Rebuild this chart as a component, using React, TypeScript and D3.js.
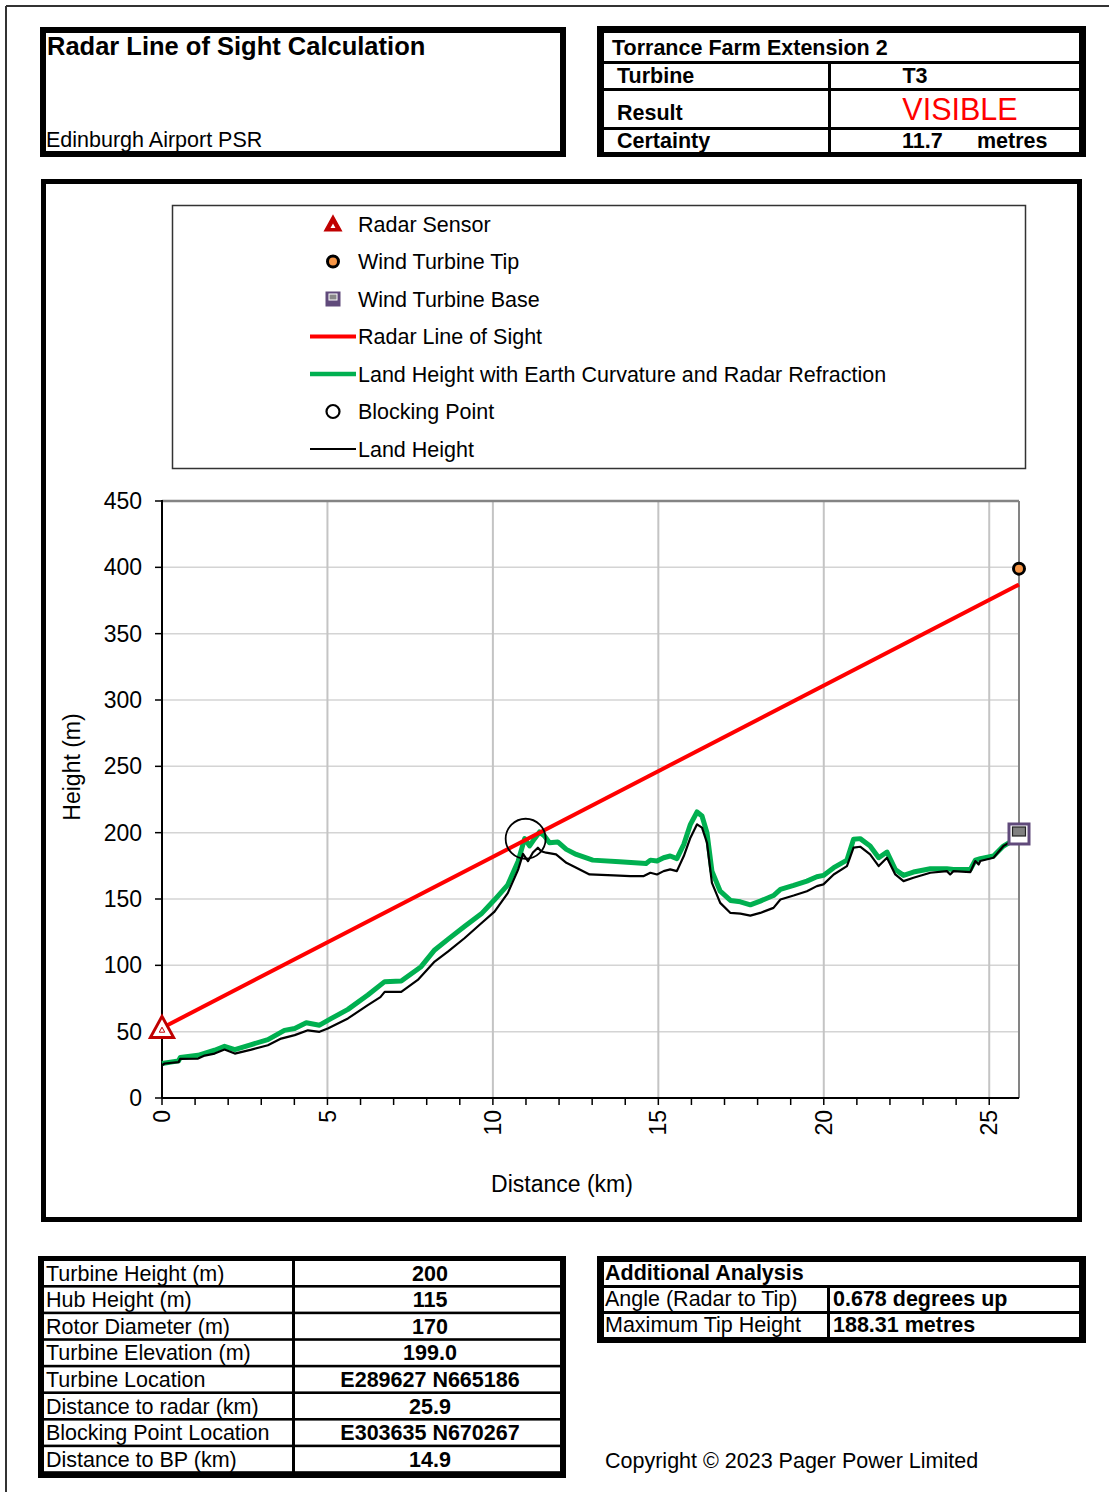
import React from "react";
import * as d3 from "d3";

const FONT = "'Liberation Sans', Arial, Helvetica, sans-serif";

// ---- chart data ----
const landKm = [0, 0.08, 0.5, 0.55, 1.09, 1.29, 1.59, 1.89, 2.2, 2.7, 3.2, 3.6, 4.01, 4.41, 4.76, 5.01, 5.62, 6.22, 6.6, 6.73, 7.23, 7.73, 8.24, 8.64, 9.14, 9.65, 10.05, 10.45, 10.76, 10.91, 11.06, 11.21, 11.36, 11.46, 11.61, 11.91, 12.22, 12.52, 12.92, 13.65, 14.15, 14.56, 14.76, 14.96, 15.16, 15.36, 15.56, 15.77, 15.97, 16.17, 16.32, 16.47, 16.62, 16.87, 17.18, 17.48, 17.78, 18.08, 18.48, 18.69, 19.09, 19.49, 19.79, 19.99, 20.3, 20.7, 20.9, 21.1, 21.4, 21.66, 21.91, 22.16, 22.41, 22.71, 23.22, 23.72, 23.82, 23.92, 24.43, 24.58, 24.68, 24.73, 25.13, 25.43, 25.63, 25.9];
const landM = [24.7, 26, 27, 29.5, 29.7, 32, 33.5, 36.5, 33.5, 36.5, 39.8, 44.8, 47.4, 51, 49.9, 52.4, 60, 70, 76, 80, 80, 89, 102.8, 110.3, 120.4, 131.7, 140.5, 154.4, 172, 184, 178.5, 185, 188.7, 186, 184.9, 183.6, 177.3, 173.6, 168.5, 167.8, 167.3, 167.3, 169.8, 168.5, 171, 172.3, 171, 182.4, 196.2, 206.3, 203.8, 192.4, 162.2, 147.1, 139.5, 139, 137.5, 139.5, 143.3, 149.6, 152.6, 155.9, 159.7, 161, 168.5, 174.8, 188.7, 189.4, 183.6, 174.8, 181.1, 168.5, 163.5, 166, 169.8, 171, 168.5, 171, 170.3, 178.6, 176, 178.6, 181.1, 189.9, 192.9, 199];

const curvKm = [0, 0.5, 0.55, 1.09, 1.59, 1.89, 2.2, 2.7, 3.2, 3.7, 4.01, 4.36, 4.76, 5.12, 5.62, 6.22, 6.73, 7.23, 7.83, 8.24, 8.64, 9.14, 9.65, 10.05, 10.45, 10.76, 10.96, 11.11, 11.26, 11.41, 11.56, 11.71, 11.96, 12.22, 12.52, 13.02, 13.83, 14.63, 14.76, 14.96, 15.16, 15.36, 15.56, 15.77, 15.97, 16.17, 16.32, 16.47, 16.62, 16.87, 17.18, 17.48, 17.78, 18.08, 18.48, 18.69, 19.09, 19.49, 19.79, 19.99, 20.3, 20.7, 20.9, 21.1, 21.4, 21.66, 21.91, 22.16, 22.41, 22.71, 23.22, 23.72, 23.92, 24.43, 24.58, 24.73, 25.13, 25.43, 25.63, 25.9];
const curvM = [26, 28, 30.5, 32.2, 36, 39, 36.5, 40.3, 44, 51, 52.4, 56.7, 54.9, 60, 66.8, 77.6, 87.7, 88.2, 99, 111.6, 119.6, 129.2, 138.8, 149.4, 160.7, 178.3, 195.5, 190, 195.5, 200.5, 197.5, 192.4, 193, 187.4, 183.6, 179.3, 178.1, 176.8, 179.3, 178.6, 181.1, 182.4, 180.4, 191.2, 206.3, 215.6, 212.6, 200, 171, 155.9, 148.9, 147.9, 145.6, 148.4, 152.6, 157.2, 160.2, 163.5, 166.8, 167.8, 173.6, 179.3, 195, 195.5, 190, 181.1, 185.4, 172.3, 167.8, 170.3, 172.8, 172.8, 172.3, 172.3, 179.3, 180.4, 182.4, 189.9, 192.9, 199];

const losKm = [0, 25.9];
const losM = [52.8, 387];

const radarPt = [0, 52.8];
const tipPt = [25.9, 399];
const basePt = [25.9, 199];
const blockPt = [10.99, 195.4];

const yTicks = [0, 50, 100, 150, 200, 250, 300, 350, 400, 450];
const xLabelTicks = [0, 5, 10, 15, 20, 25];
const xMinorTicks = d3.range(0, 26, 1);

const legendLabels = [
  "Radar Sensor",
  "Wind Turbine Tip",
  "Wind Turbine Base",
  "Radar Line of Sight",
  "Land Height with Earth Curvature and Radar Refraction",
  "Blocking Point",
  "Land Height",
];

const specLabels = ["Turbine Height (m)", "Hub Height (m)", "Rotor Diameter (m)", "Turbine Elevation (m)", "Turbine Location", "Distance to radar (km)", "Blocking Point Location", "Distance to BP (km)"];
const specValues = ["200", "115", "170", "199.0", "E289627 N665186", "25.9", "E303635 N670267", "14.9"];

const extraLabels = ["Angle (Radar to Tip)", "Maximum Tip Height"];
const extraValues = ["0.678 degrees up", "188.31 metres"];

const COLORS = {
  red: "#ff0000",
  green: "#00b050",
  radar: "#c00000",
  tipFill: "#f79646",
  basePurple: "#604a7b",
  grid: "#c4c4c4",
};

export default function App() {
  const x = d3.scaleLinear().domain([0, 25.9]).range([162, 1019]);
  const y = d3.scaleLinear().domain([0, 450]).range([1098, 501]);

  const mkPath = (xs: number[], ys: number[]) =>
    d3
      .line<number>()
      .x((i) => x(xs[i]))
      .y((i) => y(ys[i]))(xs.map((_, i) => i)) || "";

  const landPath = mkPath(landKm, landM);
  const curvPath = mkPath(curvKm, curvM);
  const losPath = mkPath(losKm, losM);

  const tri = (cx: number, cy: number, s: number) =>
    `M${cx},${cy - s * 0.55} L${cx + s * 0.55},${cy + s * 0.45} L${cx - s * 0.55},${cy + s * 0.45} Z`;

  const legendY = (i: number) => 224 + i * 37.5;

  const leftRowTop = (i: number) => 1261 + i * 26.6;

  return (
    <svg width={1109} height={1492} style={{ position: "absolute", left: 0, top: 0, background: "#fff" }} fontFamily={FONT}>
      <rect x={0} y={0} width={1109} height={1492} fill="#fff" />
      {/* page border */}
      <line x1={6} y1={6} x2={1109} y2={6} stroke="#333" strokeWidth={2} />
      <line x1={6} y1={6} x2={6} y2={1492} stroke="#333" strokeWidth={2} />

      {/* top-left title box */}
      <rect x={40} y={27} width={526} height={130} fill="#000" />
      <rect x={46} y={33} width={514} height={118} fill="#fff" />
      <text x={47} y={55} fontSize={25.5} fontWeight="bold">Radar Line of Sight Calculation</text>
      <text x={46} y={147} fontSize={21.5}>Edinburgh Airport PSR</text>

      {/* top-right result box */}
      <rect x={597} y={26} width={489} height={131} fill="#000" />
      <rect x={604} y={33} width={475} height={28} fill="#fff" />
      <rect x={604} y={64} width={224} height={24} fill="#fff" />
      <rect x={831} y={64} width={248} height={24} fill="#fff" />
      <rect x={604} y={91} width={224} height={36} fill="#fff" />
      <rect x={831} y={91} width={248} height={36} fill="#fff" />
      <rect x={604} y={130} width={224} height={22} fill="#fff" />
      <rect x={831} y={130} width={248} height={22} fill="#fff" />
      <text x={612} y={55} fontSize={21.5} fontWeight="bold">Torrance Farm Extension 2</text>
      <text x={617} y={83} fontSize={21.5} fontWeight="bold">Turbine</text>
      <text x={915} y={83} fontSize={21.5} fontWeight="bold" textAnchor="middle">T3</text>
      <text x={617} y={120} fontSize={21.5} fontWeight="bold">Result</text>
      <text x={960} y={120} fontSize={30.5} fill="#ff0000" textAnchor="middle">VISIBLE</text>
      <text x={617} y={148} fontSize={21.5} fontWeight="bold">Certainty</text>
      <text x={902} y={148} fontSize={21.5} fontWeight="bold">11.7</text>
      <text x={977} y={148} fontSize={21.5} fontWeight="bold">metres</text>

      {/* chart frame */}
      <rect x={43.5} y={181.5} width={1036} height={1038} fill="#fff" stroke="#000" strokeWidth={5} />

      {/* legend */}
      <rect x={172.5} y={205.5} width={853} height={263} fill="#fff" stroke="#333" strokeWidth={1.5} />
      {legendLabels.map((t, i) => (
        <text key={t} x={358} y={legendY(i)} dy="0.35em" fontSize={21.5}>{t}</text>
      ))}
      <path d={tri(333, legendY(0), 15)} fill={COLORS.radar} stroke={COLORS.radar} strokeWidth={1.5} />
      <path d={tri(333, legendY(0) + 2, 4.5)} fill="#fff" />
      <circle cx={333} cy={legendY(1)} r={5.5} fill={COLORS.tipFill} stroke="#000" strokeWidth={3} />
      <rect x={325.5} y={legendY(2) - 7.5} width={15} height={15} fill={COLORS.basePurple} />
      <rect x={329} y={legendY(2) - 5} width={8} height={6} fill="#888" stroke="#fff" strokeWidth={1} />
      <line x1={310} x2={356} y1={legendY(3)} y2={legendY(3)} stroke={COLORS.red} strokeWidth={4} />
      <line x1={310} x2={356} y1={legendY(4)} y2={legendY(4)} stroke={COLORS.green} strokeWidth={4.5} />
      <circle cx={333} cy={legendY(5)} r={6.5} fill="none" stroke="#000" strokeWidth={2.2} />
      <line x1={310} x2={356} y1={legendY(6)} y2={legendY(6)} stroke="#000" strokeWidth={2} />

      {/* gridlines */}
      {yTicks.filter((t) => t > 0 && t < 450).map((t) => (
        <line key={"gy" + t} x1={x(0)} x2={x(25.9)} y1={y(t)} y2={y(t)} stroke="#d4d4d4" strokeWidth={1.5} />
      ))}
      {xLabelTicks.filter((t) => t > 0).map((t) => (
        <line key={"gx" + t} x1={x(t)} x2={x(t)} y1={y(0)} y2={y(450)} stroke={COLORS.grid} strokeWidth={2} />
      ))}
      <line x1={x(0)} x2={x(25.9)} y1={y(450)} y2={y(450)} stroke="#848484" strokeWidth={2.5} />
      <line x1={x(25.9)} x2={x(25.9)} y1={y(450)} y2={y(0)} stroke="#848484" strokeWidth={2} />

      {/* axes */}
      <line x1={x(0)} x2={x(0)} y1={y(450) - 1} y2={y(0)} stroke="#000" strokeWidth={2} />
      <line x1={x(0)} x2={x(25.9)} y1={y(0)} y2={y(0)} stroke="#000" strokeWidth={2} />
      {yTicks.map((t) => (
        <g key={"yt" + t}>
          <line x1={x(0) - 7} x2={x(0)} y1={y(t)} y2={y(t)} stroke="#000" strokeWidth={1.5} />
          <text x={142} y={y(t)} dy="0.35em" textAnchor="end" fontSize={23}>{t}</text>
        </g>
      ))}
      {xMinorTicks.map((t) => (
        <line key={"xt" + t} x1={x(t)} x2={x(t)} y1={y(0)} y2={y(0) + 7} stroke="#000" strokeWidth={1.5} />
      ))}
      {xLabelTicks.map((t) => (
        <text key={"xl" + t} transform={`translate(${x(t)},1110) rotate(-90)`} dy="0.35em" textAnchor="end" fontSize={23}>{t}</text>
      ))}
      <text transform="translate(72,767) rotate(-90)" dy="0.35em" textAnchor="middle" fontSize={23}>Height (m)</text>
      <text x={562} y={1192} textAnchor="middle" fontSize={23}>Distance (km)</text>

      {/* series */}
      <path d={curvPath} fill="none" stroke={COLORS.green} strokeWidth={5} strokeLinejoin="round" />
      <path d={landPath} fill="none" stroke="#000" strokeWidth={2.2} strokeLinejoin="round" />
      <path d={losPath} fill="none" stroke={COLORS.red} strokeWidth={4} />

      {/* markers */}
      <circle cx={x(blockPt[0])} cy={y(blockPt[1])} r={20} fill="none" stroke="#000" strokeWidth={1.8} />
      <path d={tri(x(radarPt[0]), y(radarPt[1]), 21)} fill="#fff" stroke={COLORS.radar} strokeWidth={3} />
      <path d={tri(x(radarPt[0]), y(radarPt[1]) + 2, 5)} fill="none" stroke={COLORS.radar} strokeWidth={1} />
      <circle cx={x(tipPt[0])} cy={y(tipPt[1])} r={5.5} fill={COLORS.tipFill} stroke="#000" strokeWidth={3} />
      <rect x={x(basePt[0]) - 10} y={y(basePt[1]) - 10} width={20} height={20} fill="#fff" stroke={COLORS.basePurple} strokeWidth={3} />
      <rect x={x(basePt[0]) - 6.5} y={y(basePt[1]) - 7} width={13} height={9} fill="#808080" stroke="#222" strokeWidth={1.2} />

      {/* bottom-left spec table */}
      <rect x={38} y={1256} width={528} height={222} fill="#000" />
      {specLabels.map((lab, i) => (
        <g key={lab}>
          <rect x={44} y={leftRowTop(i)} width={248} height={24} fill="#fff" />
          <rect x={295} y={leftRowTop(i)} width={265} height={24} fill="#fff" />
          <text x={46} y={leftRowTop(i) + 19.5} fontSize={21.5}>{lab}</text>
          <text x={430} y={leftRowTop(i) + 19.5} fontSize={21.5} fontWeight="bold" textAnchor="middle">{specValues[i]}</text>
        </g>
      ))}

      {/* bottom-right additional analysis */}
      <rect x={597} y={1256} width={489} height={87} fill="#000" />
      <rect x={604} y={1262} width={475} height={23} fill="#fff" />
      <text x={605} y={1280} fontSize={21.5} fontWeight="bold">Additional Analysis</text>
      {extraLabels.map((lab, i) => (
        <g key={lab}>
          <rect x={604} y={1288 + i * 26} width={223} height={23} fill="#fff" />
          <rect x={830} y={1288 + i * 26} width={249} height={23} fill="#fff" />
          <text x={605} y={1306 + i * 26} fontSize={21.5}>{lab}</text>
          <text x={833} y={1306 + i * 26} fontSize={21.5} fontWeight="bold">{extraValues[i]}</text>
        </g>
      ))}

      <text x={605} y={1468} fontSize={21.5}>Copyright © 2023 Pager Power Limited</text>
    </svg>
  );
}
